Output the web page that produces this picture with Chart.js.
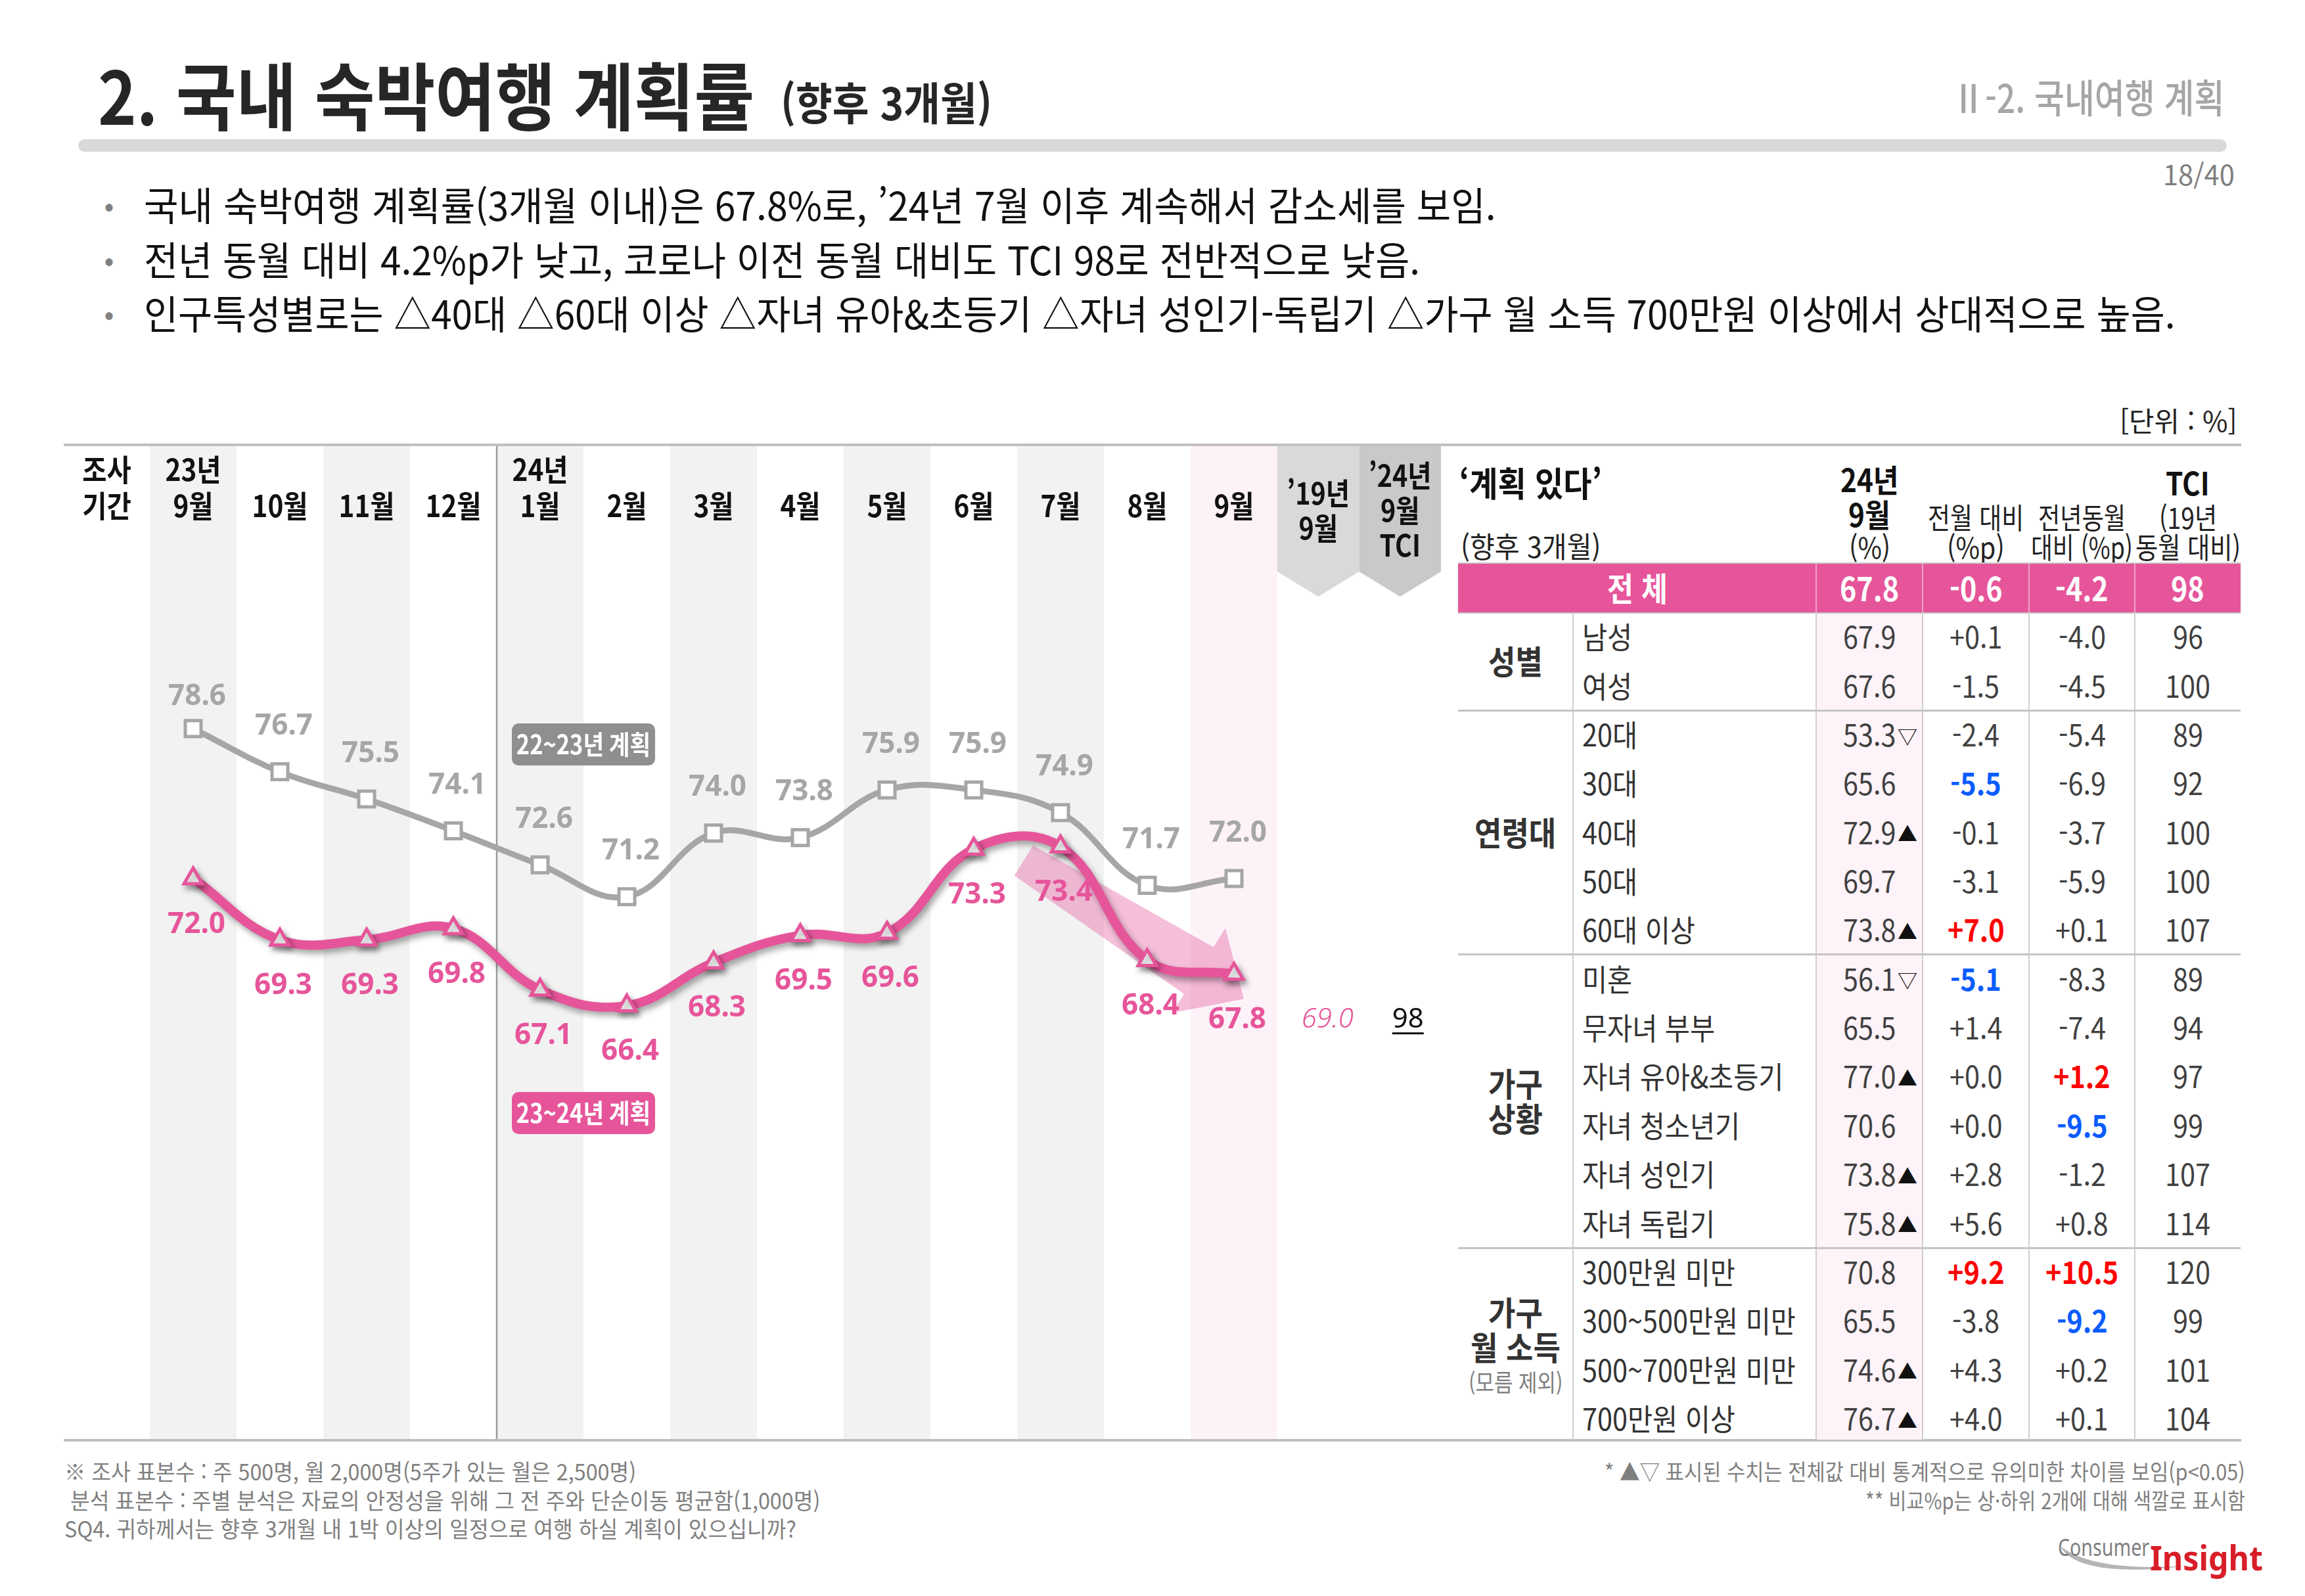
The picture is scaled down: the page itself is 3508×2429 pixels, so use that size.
<!DOCTYPE html>
<html lang="ko">
<head>
<meta charset="utf-8">
<title>2. 국내 숙박여행 계획률</title>
<script src="https://cdn.jsdelivr.net/npm/chart.js@4.4.1/dist/chart.umd.min.js"></script>
<style>
  html, body { margin: 0; padding: 0; background: #fff; }
  body { position: relative; width: 3508px; height: 2429px; overflow: hidden;
         font-family: 'Noto Sans CJK KR', 'Noto Sans', sans-serif; }
  .t { position: absolute; white-space: pre; line-height: 1; }
  .r { position: absolute; }
  #planWrap { position: absolute; left: 97px; top: 679px; width: 2096px; height: 1512px; }
</style>
</head>
<body>
<div id="planWrap"><canvas id="planChart" width="2096" height="1512"></canvas></div>
<script>
'use strict';

// chart data
var monthYears = ['23년', '', '', '', '24년', '', '', '', '', '', '', '', ''];
var monthNames = ['9월', '10월', '11월', '12월', '1월', '2월', '3월', '4월', '5월', '6월', '7월', '8월', '9월'];
var plan2223 = [78.6, 76.7, 75.5, 74.1, 72.6, 71.2, 74.0, 73.8, 75.9, 75.9, 74.9, 71.7, 72.0];
var plan2324 = [72.0, 69.3, 69.3, 69.8, 67.1, 66.4, 68.3, 69.5, 69.6, 73.3, 73.4, 68.4, 67.8];
var seriesNames = ['22~23년 계획', '23~24년 계획'];
var extraHeads = [['’19년', '9월'], ['’24년', '9월', 'TCI']];
var extraValues = [69.0, 98];

// table data
var groupNames = [['성별'], ['연령대'], ['가구', '상황'], ['가구', '월 소득', '(모름 제외)']];
var groupItems = [
  ['남성', '여성'],
  ['20대', '30대', '40대', '50대', '60대 이상'],
  ['미혼', '무자녀 부부', '자녀 유아&초등기', '자녀 청소년기', '자녀 성인기', '자녀 독립기'],
  ['300만원 미만', '300~500만원 미만', '500~700만원 미만', '700만원 이상']
];
var totalRow = [67.8, -0.6, -4.2, 98];
var rateSep = [67.9, 67.6, 53.3, 65.6, 72.9, 69.7, 73.8, 56.1, 65.5, 77.0, 70.6, 73.8, 75.8, 70.8, 65.5, 74.6, 76.7];
var rateMark = ['', '', '▽', '', '▲', '', '▲', '▽', '', '▲', '', '▲', '▲', '', '', '▲', '▲'];
var diffMonth = [0.1, -1.5, -2.4, -5.5, -0.1, -3.1, 7.0, -5.1, 1.4, 0.0, 0.0, 2.8, 5.6, 9.2, -3.8, 4.3, 4.0];
var diffYear = [-4.0, -4.5, -5.4, -6.9, -3.7, -5.9, 0.1, -8.3, -7.4, 1.2, -9.5, -1.2, 0.8, 10.5, -9.2, 0.2, 0.1];
var tciValues = [96, 100, 89, 92, 100, 100, 107, 89, 94, 97, 99, 107, 114, 120, 99, 101, 104];

var GRAY = '#a6a6a6';
var PINK = '#e6559a';
var CJK = '"Noto Sans CJK KR"';

var planjs = function () {

    function put(text, x, y, o) {
        o = o || {};
        var size = o.size || 44;
        var d = document.createElement('div');
        d.className = 't';
        d.textContent = text;
        d.style.fontSize = size + 'px';
        d.style.fontWeight = o.weight || 400;
        d.style.color = o.color || '#222';
        if (o.family) d.style.fontFamily = o.family;
        if (o.italic) d.style.fontStyle = 'italic';
        document.body.appendChild(d);
        var w = d.offsetWidth, h = d.offsetHeight;
        var sx = o.w ? o.w / w : (o.sx || 1);
        var vis = w * sx;
        var align = o.align || 'center';
        var left = align === 'left' ? x : (align === 'right' ? x - vis : x - vis / 2);
        d.style.left = left + 'px';
        d.style.top = (y - h / 2 - size * 0.04) + 'px';
        d.style.transformOrigin = '0 50%';
        d.style.transform = 'scaleX(' + sx + ')';
        return { el: d, left: left, width: vis };
    }

    function rect(x, y, w, h, color, radius) {
        var d = document.createElement('div');
        d.className = 'r';
        d.style.left = x + 'px';
        d.style.top = y + 'px';
        d.style.width = w + 'px';
        d.style.height = h + 'px';
        d.style.background = color;
        if (radius) d.style.borderRadius = radius + 'px';
        document.body.appendChild(d);
        return d;
    }

    function drawText(c, str, x, y, font, color, sx) {
        c.save();
        c.translate(x, y);
        c.scale(sx || 1, 1);
        c.font = font;
        c.fillStyle = color;
        c.textAlign = 'center';
        c.textBaseline = 'middle';
        c.fillText(str, 0, 0);
        c.restore();
    }

    function signed(v) {
        return (v >= 0 ? '+' : '') + v.toFixed(1);
    }

    // red for the two highest, blue for the two lowest
    function rankColor(arr, i) {
        var s = arr.slice().sort(function (a, b) { return b - a; });
        if (arr[i] >= s[1]) return '#ff0000';
        if (arr[i] <= s[s.length - 2]) return '#0a5cff';
        return null;
    }

    var planBackground = {
        id: 'planBackground',
        beforeDraw: function (chart) {
            var c = chart.ctx, x = chart.scales.x, area = chart.chartArea, H = chart.height;
            var band = x.getPixelForValue(1) - x.getPixelForValue(0);
            var last = monthNames.length - 1;
            c.save();
            // column bands
            for (var i = 0; i < monthNames.length; i++) {
                var left = x.getPixelForValue(i) - band / 2;
                if (i === last) {
                    c.fillStyle = '#fdf2f8';
                    c.fillRect(left, 0, band, H);
                } else if (i % 2 === 0) {
                    c.fillStyle = '#f2f2f2';
                    c.fillRect(left, 0, band, H);
                }
            }
            // year divider
            c.strokeStyle = '#9a9a9a';
            c.lineWidth = 2.5;
            for (var k = 1; k < monthYears.length; k++) {
                if (monthYears[k] !== '') {
                    var dx = x.getPixelForValue(k) - band / 2;
                    c.beginPath();
                    c.moveTo(dx, 0);
                    c.lineTo(dx, H);
                    c.stroke();
                }
            }
            // chevrons for the comparison columns
            var ew = (chart.width - area.right) / 2;
            var chevColors = ['#d9d9d9', '#c9c9c9'];
            for (var e = 0; e < extraHeads.length; e++) {
                var ex = area.right + ew * e;
                c.fillStyle = chevColors[e];
                c.beginPath();
                c.moveTo(ex, 0);
                c.lineTo(ex + ew, 0);
                c.lineTo(ex + ew, 191);
                c.lineTo(ex + ew / 2, 229);
                c.lineTo(ex, 191);
                c.closePath();
                c.fill();
                var lines = extraHeads[e];
                for (var j = 0; j < lines.length; j++) {
                    drawText(c, lines[j], ex + ew / 2, 98 + (j - (lines.length - 1) / 2) * 53,
                        '700 46px ' + CJK, '#111', 0.86);
                }
            }
            // header labels
            drawText(c, '조사', area.left / 2, 36, '700 46px ' + CJK, '#111', 0.88);
            drawText(c, '기간', area.left / 2, 91, '700 46px ' + CJK, '#111', 0.88);
            for (var m = 0; m < monthNames.length; m++) {
                var mx = x.getPixelForValue(m);
                if (monthYears[m]) drawText(c, monthYears[m], mx, 36, '700 46px ' + CJK, '#111', 0.88);
                drawText(c, monthNames[m], mx, 91, '700 46px ' + CJK, '#111', 0.88);
            }
            // series name boxes
            var bx = x.getPixelForValue(4) + band / 2;
            var boxY = [454, 1015];
            var boxC = ['#8f8f8f', PINK];
            for (var b = 0; b < seriesNames.length; b++) {
                c.fillStyle = boxC[b];
                c.beginPath();
                c.roundRect(bx - 109, boxY[b] - 32, 218, 64, 10);
                c.fill();
                drawText(c, seriesNames[b], bx, boxY[b], '700 40px ' + CJK, '#fff', 0.86);
            }
            // trend arrow, from the 7월 point to the last point (body widens toward the head)
            var pts = chart.getDatasetMeta(1).data;
            var p0 = pts[10], p1 = pts[last];
            var sx0 = p0.x - 56, sy0 = p0.y + 21;
            var tx = p1.x + 15, ty = p1.y + 38;
            var len = Math.hypot(tx - sx0, ty - sy0);
            var ux = (tx - sx0) / len, uy = (ty - sy0) / len;
            var nx = -uy, ny = ux;
            var hx = tx - ux * 81, hy = ty - uy * 81;
            var w0 = 27, w1 = 42, wh = 76;
            c.fillStyle = 'rgba(230,85,154,0.38)';
            c.beginPath();
            c.moveTo(sx0 + nx * w0, sy0 + ny * w0);
            c.lineTo(hx + nx * w1, hy + ny * w1);
            c.lineTo(hx + nx * wh, hy + ny * wh);
            c.lineTo(tx, ty);
            c.lineTo(hx - nx * wh, hy - ny * wh);
            c.lineTo(hx - nx * w1, hy - ny * w1);
            c.lineTo(sx0 - nx * w0, sy0 - ny * w0);
            c.closePath();
            c.fill();
            c.restore();
        }
    };

    var lineShadow = {
        id: 'lineShadow',
        beforeDatasetDraw: function (chart, args) {
            if (args.index !== 1) return;
            var c = chart.ctx;
            c.save();
            c.shadowColor = 'rgba(0,0,0,0.35)';
            c.shadowBlur = 10;
            c.shadowOffsetX = 4;
            c.shadowOffsetY = 6;
        },
        afterDatasetDraw: function (chart, args) {
            if (args.index === 1) chart.ctx.restore();
        }
    };

    var valueLabels = {
        id: 'valueLabels',
        afterDatasetsDraw: function (chart) {
            var c = chart.ctx, area = chart.chartArea;
            var g = chart.getDatasetMeta(0).data;
            var p = chart.getDatasetMeta(1).data;
            g.forEach(function (pt, i) {
                drawText(c, plan2223[i].toFixed(1), pt.x + 6, pt.y - (i === 0 ? 48 : 69),
                    '700 44px "Noto Sans"', GRAY, 1);
            });
            p.forEach(function (pt, i) {
                drawText(c, plan2324[i].toFixed(1), pt.x + 5, pt.y + 70,
                    '700 44px "Noto Sans"', PINK, 1);
            });
            var ew = (chart.width - area.right) / 2;
            var ly = p[p.length - 1].y + 70;
            drawText(c, extraValues[0].toFixed(1), area.right + ew / 2 + 14, ly,
                'italic 300 42px "Noto Sans"', PINK, 1);
            var tx = area.right + ew * 1.5 + 12;
            drawText(c, String(extraValues[1]), tx, ly, '400 42px "Noto Sans"', '#111', 1);
            c.save();
            c.font = '400 42px "Noto Sans"';
            var tw = c.measureText(String(extraValues[1])).width;
            c.fillStyle = '#111';
            c.fillRect(tx - tw / 2, ly + 19, tw, 3);
            c.restore();
        }
    };

    return {

        init: function () {
            planjs.handleHeader();
            planjs.handleChart();
            planjs.handleTable();
            planjs.handleFooter();
        },

        handleHeader: function () {
            put('2. 국내 숙박여행 계획률', 149, 145, { size: 112, weight: 700, align: 'left', w: 999, color: '#262626' });
            put('(향후 3개월)', 1188, 157, { size: 68, weight: 700, align: 'left', w: 322, color: '#262626' });
            rect(119, 212, 3270, 19, '#d9d9d9', 10);
            put('Ⅱ-2. 국내여행 계획', 3385, 148, { size: 60, weight: 500, align: 'right', w: 414, color: '#a6a6a6' });
            put('18/40', 3401, 266, { size: 42, align: 'right', w: 109, color: '#7f7f7f' });

            var bullets = [
                '국내 숙박여행 계획률(3개월 이내)은 67.8%로, ’24년 7월 이후 계속해서 감소세를 보임.',
                '전년 동월 대비 4.2%p가 낮고, 코로나 이전 동월 대비도 TCI 98로 전반적으로 낮음.',
                '인구특성별로는 △40대 △60대 이상 △자녀 유아&초등기 △자녀 성인기-독립기 △가구 월 소득 700만원 이상에서 상대적으로 높음.'
            ];
            var bw = [2058, 1942, 3092];
            var by = [312, 395, 477];
            for (var i = 0; i < bullets.length; i++) {
                put('•', 166, by[i], { size: 44, color: '#808080' });
                put(bullets[i], 219, by[i], { size: 60, align: 'left', w: bw[i], color: '#111' });
            }
            put('[단위 : %]', 3405, 641, { size: 42, align: 'right', w: 179, color: '#222' });
            rect(97, 675, 3314, 4, '#c0c0c0');
            rect(97, 2190, 3314, 4, '#c0c0c0');
        },

        handleChart: function () {
            new Chart(document.getElementById('planChart'), {
                type: 'line',
                data: {
                    labels: monthNames.map(function (m, i) { return (monthYears[i] ? monthYears[i] + ' ' : '') + m; }),
                    datasets: [{
                        label: seriesNames[0],
                        data: plan2223,
                        borderColor: GRAY,
                        borderWidth: 9,
                        tension: 0.4,
                        fill: false,
                        pointStyle: 'rect',
                        pointRadius: 17,
                        pointBorderWidth: 5,
                        pointBackgroundColor: '#fff',
                        pointBorderColor: GRAY
                    }, {
                        label: seriesNames[1],
                        data: plan2324,
                        borderColor: PINK,
                        borderWidth: 14,
                        tension: 0.4,
                        fill: false,
                        pointStyle: 'triangle',
                        pointRadius: 16,
                        pointBorderWidth: 5,
                        pointBackgroundColor: '#fff',
                        pointBorderColor: PINK
                    }]
                },
                options: {
                    responsive: false,
                    animation: false,
                    devicePixelRatio: 1,
                    events: [],
                    layout: { padding: { left: 131, right: 249, top: 0, bottom: 0 } },
                    plugins: {
                        legend: { display: false },
                        tooltip: { enabled: false }
                    },
                    scales: {
                        x: { display: false, offset: true },
                        y: { display: false, min: 47.93, max: 90.4 }
                    }
                },
                plugins: [planBackground, lineShadow, valueLabels]
            });
        },

        handleTable: function () {
            var cols = [2219, 2394, 2764, 2926, 3088, 3249, 3410];
            var top = 932, rh = 74.35;
            var bottom = 2191;
            var mid = function (k) { return (cols[k] + cols[k + 1]) / 2; };

            // header
            put('‘계획 있다’', 2221, 736, { size: 52, weight: 700, align: 'left', w: 217, color: '#111' });
            put('(향후 3개월)', 2223, 832, { size: 44, align: 'left', w: 213, color: '#222' });
            put('24년', mid(2), 730, { size: 48, weight: 700, sx: 0.88, color: '#111' });
            put('9월', mid(2), 783, { size: 48, weight: 700, sx: 0.88, color: '#111' });
            put('(%)', mid(2), 833, { size: 44, sx: 0.9, color: '#222' });
            put('전월 대비', mid(3), 788, { size: 44, w: 146, color: '#222' });
            put('(%p)', mid(3), 833, { size: 44, sx: 0.9, color: '#222' });
            put('전년동월', mid(4), 788, { size: 44, w: 133, color: '#222' });
            put('대비 (%p)', mid(4), 833, { size: 44, w: 155, color: '#222' });
            put('TCI', mid(5), 735, { size: 48, weight: 700, sx: 0.88, color: '#111' });
            put('(19년', mid(5), 788, { size: 44, w: 88, color: '#222' });
            put('동월 대비)', mid(5), 833, { size: 44, w: 160, color: '#222' });

            // total row
            rect(cols[0], 856, cols[6] - cols[0], 2, '#c8c8c8');
            rect(cols[0], 858, cols[6] - cols[0], 74, PINK);
            for (var k = 2; k <= 5; k++) rect(cols[k] - 1, 858, 2, 74, 'rgba(255,255,255,0.45)');
            put('전 체', (cols[0] + cols[2]) / 2, 895, { size: 50, weight: 700, w: 92, color: '#fff' });
            put(totalRow[0].toFixed(1), mid(2), 895, { size: 50, weight: 700, sx: 0.86, color: '#fff' });
            put(totalRow[1].toFixed(1), mid(3), 895, { size: 50, weight: 700, sx: 0.86, color: '#fff' });
            put(totalRow[2].toFixed(1), mid(4), 895, { size: 50, weight: 700, sx: 0.86, color: '#fff' });
            put(String(totalRow[3]), mid(5), 895, { size: 50, weight: 700, sx: 0.86, color: '#fff' });

            // body grid
            rect(cols[2], top, cols[3] - cols[2], bottom - top, '#fdf3f8');
            rect(cols[0], top, cols[6] - cols[0], 2, '#c8c8c8');
            for (var v = 1; v <= 5; v++) rect(cols[v] - 1, top, 2, bottom - top, '#cfcfcf');

            var row = 0;
            for (var g = 0; g < groupItems.length; g++) {
                var items = groupItems[g];
                var gy = top + rh * (row + items.length / 2);
                var names = groupNames[g];
                for (var n = 0; n < names.length; n++) {
                    var ly = gy + (n - (names.length - 1) / 2) * 53 + (names.length > 2 ? 3 : 0);
                    if (names[n].charAt(0) === '(') {
                        put(names[n], mid(0), ly, { size: 36, sx: 0.86, color: '#7f7f7f' });
                    } else {
                        put(names[n], mid(0), ly, { size: 50, weight: 700, sx: 0.9, color: '#333' });
                    }
                }
                for (var r = 0; r < items.length; r++) {
                    var y = top + rh * (row + 0.5);
                    put(items[r], 2408, y, { size: 46, align: 'left', sx: 0.9, color: '#333' });
                    var s = put(rateSep[row].toFixed(1), mid(2), y, { size: 46, sx: 0.9, color: '#404040' });
                    if (rateMark[row]) {
                        put(rateMark[row], s.left + s.width + 3, y + 2, { size: 30, align: 'left', color: '#111' });
                    }
                    var cm = rankColor(diffMonth, row);
                    put(signed(diffMonth[row]), mid(3), y, { size: 46, sx: 0.9, weight: cm ? 700 : 400, color: cm || '#404040' });
                    var cy = rankColor(diffYear, row);
                    put(signed(diffYear[row]), mid(4), y, { size: 46, sx: 0.9, weight: cy ? 700 : 400, color: cy || '#404040' });
                    put(String(tciValues[row]), mid(5), y, { size: 46, sx: 0.9, color: '#404040' });
                    row++;
                }
                if (g < groupItems.length - 1) rect(cols[0], top + rh * row - 1, cols[6] - cols[0], 3, '#c4c4c4');
            }
        },

        handleFooter: function () {
            var fc = '#7f7f7f';
            put('※ 조사 표본수 : 주 500명, 월 2,000명(5주가 있는 월은 2,500명)', 98, 2240, { size: 34, align: 'left', w: 870, color: fc });
            put('분석 표본수 : 주별 분석은 자료의 안정성을 위해 그 전 주와 단순이동 평균함(1,000명)', 107, 2284, { size: 34, align: 'left', w: 1141, color: fc });
            put('SQ4. 귀하께서는 향후 3개월 내 1박 이상의 일정으로 여행 하실 계획이 있으십니까?', 98, 2327, { size: 34, align: 'left', w: 1114, color: fc });
            put('* ▲▽ 표시된 수치는 전체값 대비 통계적으로 유의미한 차이를 보임(p<0.05)', 3417, 2240, { size: 34, align: 'right', w: 975, color: fc });
            put('** 비교%p는 상·하위 2개에 대해 색깔로 표시함', 3417, 2284, { size: 34, align: 'right', w: 578, color: fc });

            // logo
            var svg = '<svg xmlns="http://www.w3.org/2000/svg" width="200" height="60" style="position:absolute;left:3130px;top:2345px">' +
                '<path d="M6 8 C 20 40, 90 52, 200 38 C 110 44, 40 36, 6 8 Z" fill="#b5b5b5"/></svg>';
            document.body.insertAdjacentHTML('beforeend', svg);
            put('Consumer', 3132, 2356, { size: 36, align: 'left', w: 139, color: '#808080', family: '"Noto Sans"' });
            put('Insight', 3272, 2372, { size: 52, weight: 700, align: 'left', w: 172, color: '#d81e28', family: '"Noto Sans"' });
        }

    };

}();

planjs.init();
</script>
</body>
</html>
